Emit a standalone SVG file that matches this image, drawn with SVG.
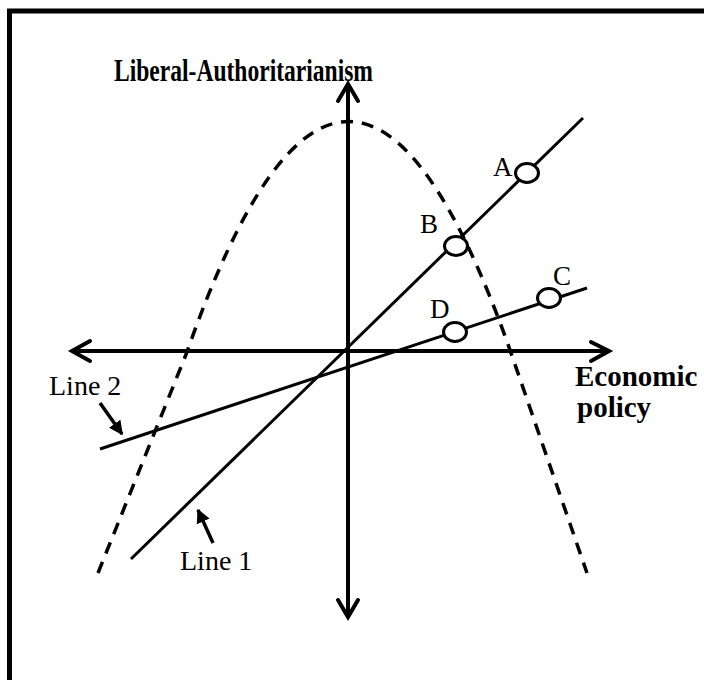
<svg xmlns="http://www.w3.org/2000/svg" width="704" height="680" viewBox="0 0 704 680">
<style>
.frame{stroke:#000;stroke-width:5;fill:none}
.axis{stroke:#000;stroke-width:4;fill:none}
.head{stroke:#000;stroke-width:4;fill:none;stroke-linecap:round;stroke-linejoin:miter}
.line{stroke:#000;stroke-width:3;fill:none}
.curve{stroke:#000;stroke-width:3.5;fill:none;stroke-dasharray:12 9}
.pt{stroke:#000;stroke-width:3;fill:#fff}
.lbl{font-family:"Liberation Serif","Times New Roman",serif;font-size:27px;fill:#000}
.bold{font-family:"Liberation Serif","Times New Roman",serif;font-size:29px;font-weight:bold;fill:#000}
.ptr{stroke:#000;stroke-width:3.5;fill:none}
</style>
<defs>
<marker id="tri" viewBox="0 0 10 10" refX="9" refY="5" markerWidth="4" markerHeight="4" orient="auto" markerUnits="strokeWidth">
<path d="M0,0 L10,5 L0,10 z" fill="#000"/>
</marker>
</defs>
<rect width="704" height="680" fill="#fff"/>
<g id="frame">
<line class="frame" x1="7" y1="11" x2="704" y2="11"/>
<line class="frame" x1="9.5" y1="9" x2="9.5" y2="680"/>
</g>
<g id="curve">
<path class="curve" d="M98,573 L187,352 Q348,-108 510,350 L587,573"/>
</g>
<g id="connectors">
<g id="axes">
<line class="axis" x1="348" y1="84" x2="348" y2="617"/>
<line class="axis" x1="72" y1="351" x2="609" y2="351"/>
<polyline class="head" points="338,101 348,84 358,101"/>
<polyline class="head" points="338,600 348,617 358,600"/>
<polyline class="head" points="90,341 72,351 90,361"/>
<polyline class="head" points="591,342 609,351 591,361"/>
</g>
<line id="line1" class="line" x1="131" y1="559" x2="583" y2="118"/>
<line id="line2" class="line" x1="100" y1="449" x2="587" y2="288"/>
<line class="ptr" x1="100" y1="403" x2="122" y2="434" marker-end="url(#tri)"/>
<line class="ptr" x1="213" y1="543" x2="198" y2="510" marker-end="url(#tri)"/>
</g>
<g id="pointA"><ellipse class="pt" cx="527" cy="173" rx="11.5" ry="9.5"/><text class="lbl" x="493" y="176">A</text></g>
<g id="pointB"><ellipse class="pt" cx="456" cy="246" rx="11.5" ry="9.5"/><text class="lbl" x="420" y="233">B</text></g>
<g id="pointC"><ellipse class="pt" cx="549" cy="298" rx="11.5" ry="9.5"/><text class="lbl" x="553" y="285">C</text></g>
<g id="pointD"><ellipse class="pt" cx="455" cy="332" rx="11.5" ry="9.5"/><text class="lbl" x="430" y="318">D</text></g>
<g id="labels">
<text class="bold" x="114" y="81" style="font-size:31px" textLength="259" lengthAdjust="spacingAndGlyphs">Liberal-Authoritarianism</text>
<text class="bold" x="575" y="386">Economic</text>
<text class="bold" x="577" y="417">policy</text>
<text class="lbl" x="49" y="395" style="font-size:28px">Line 2</text>
<text class="lbl" x="180" y="570" style="font-size:28px">Line 1</text>
</g>
</svg>
